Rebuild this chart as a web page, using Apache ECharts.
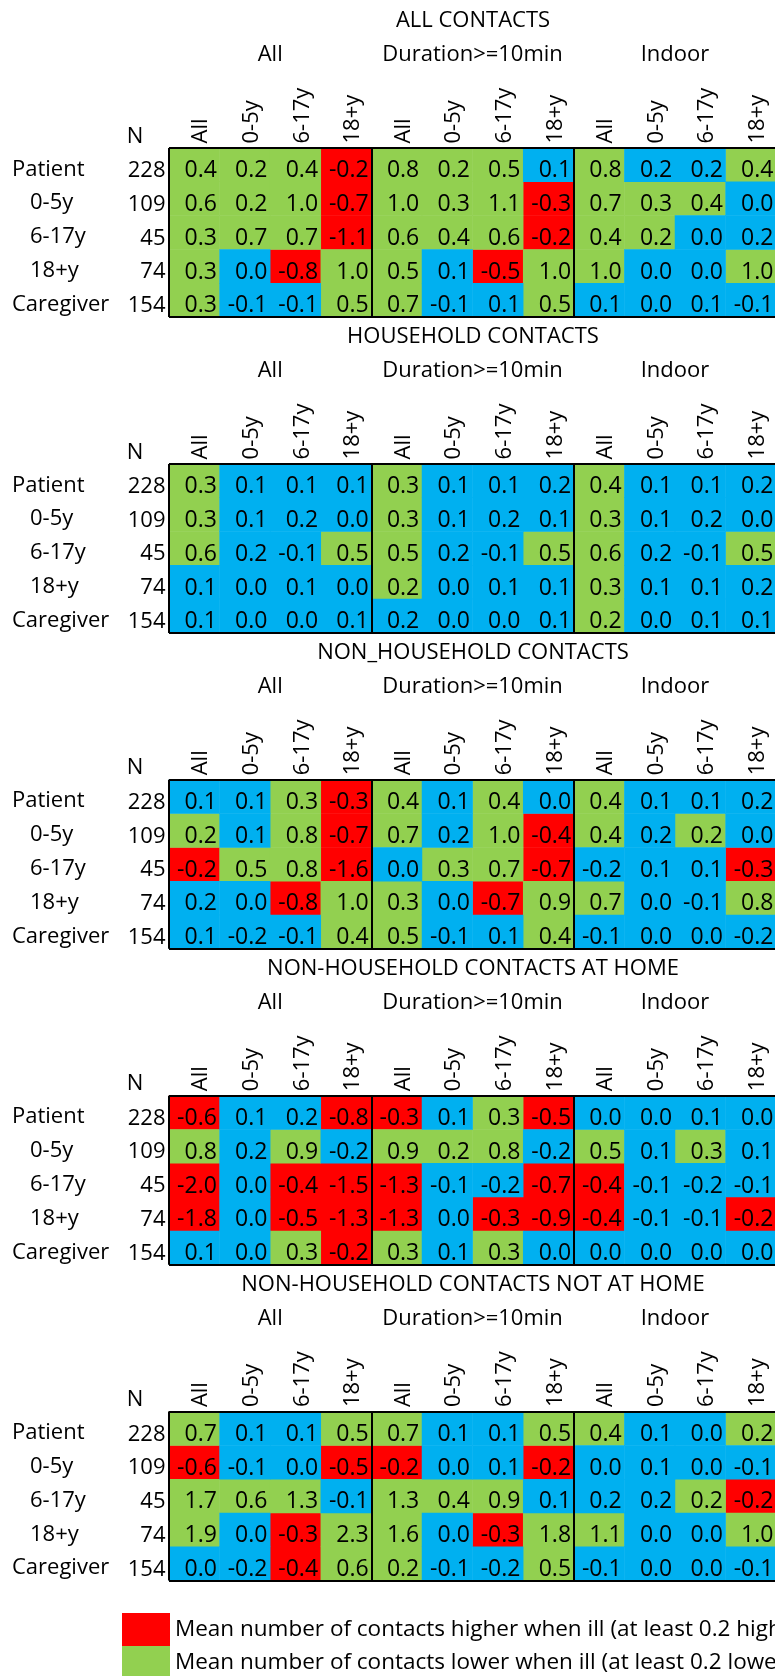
<!DOCTYPE html>
<html>
<head>
<meta charset="utf-8">
<script src="https://cdn.jsdelivr.net/npm/echarts@6/dist/echarts.min.js"></script>
<style>
  html, body { margin: 0; padding: 0; background: #fff; }
  #chart { width: 775px; height: 1676px; }
</style>
</head>
<body>
<div id="chart"></div>
<script>
var panelTitles = ['ALL CONTACTS', 'HOUSEHOLD CONTACTS', 'NON_HOUSEHOLD CONTACTS',
  'NON-HOUSEHOLD CONTACTS AT HOME', 'NON-HOUSEHOLD CONTACTS NOT AT HOME'];
var groupLabels = ['All', 'Duration>=10min', 'Indoor'];
var colLabels = ['All', '0-5y', '6-17y', '18+y', 'All', '0-5y', '6-17y', '18+y', 'All', '0-5y', '6-17y', '18+y'];
var rowLabels = ['Patient', '0-5y', '6-17y', '18+y', 'Caregiver'];
var nLabels = ['228', '109', '45', '74', '154'];
var legendHigher = 'Mean number of contacts higher when ill (at least 0.2 higher)';
var legendLower = 'Mean number of contacts lower when ill (at least 0.2 lower)';
var legendOther = 'Difference less than 0.2';

// cell values, one row per group; cls: R = higher when ill, G = lower, B = neither
var allContacts = [
  [0.4, 0.2, 0.4, -0.2, 0.8, 0.2, 0.5, 0.1, 0.8, 0.2, 0.2, 0.4],
  [0.6, 0.2, 1.0, -0.7, 1.0, 0.3, 1.1, -0.3, 0.7, 0.3, 0.4, 0.0],
  [0.3, 0.7, 0.7, -1.1, 0.6, 0.4, 0.6, -0.2, 0.4, 0.2, 0.0, 0.2],
  [0.3, 0.0, -0.8, 1.0, 0.5, 0.1, -0.5, 1.0, 1.0, 0.0, 0.0, 1.0],
  [0.3, -0.1, -0.1, 0.5, 0.7, -0.1, 0.1, 0.5, 0.1, 0.0, 0.1, -0.1]
];
var allContactsCls = ['GGGR GGGB GBBG', 'GGGR GGGR GGGB', 'GGGR GGGR GGBB', 'GBRG GBRG GBBG', 'GBBG GBBG BBBB'];

var household = [
  [0.3, 0.1, 0.1, 0.1, 0.3, 0.1, 0.1, 0.2, 0.4, 0.1, 0.1, 0.2],
  [0.3, 0.1, 0.2, 0.0, 0.3, 0.1, 0.2, 0.1, 0.3, 0.1, 0.2, 0.0],
  [0.6, 0.2, -0.1, 0.5, 0.5, 0.2, -0.1, 0.5, 0.6, 0.2, -0.1, 0.5],
  [0.1, 0.0, 0.1, 0.0, 0.2, 0.0, 0.1, 0.1, 0.3, 0.1, 0.1, 0.2],
  [0.1, 0.0, 0.0, 0.1, 0.2, 0.0, 0.0, 0.1, 0.2, 0.0, 0.1, 0.1]
];
var householdCls = ['GBBB GBBB GBBB', 'GBBB GBBB GBBB', 'GBBG GBBG GBBG', 'BBBB GBBB GBBB', 'BBBB BBBB GBBB'];

var nonHousehold = [
  [0.1, 0.1, 0.3, -0.3, 0.4, 0.1, 0.4, 0.0, 0.4, 0.1, 0.1, 0.2],
  [0.2, 0.1, 0.8, -0.7, 0.7, 0.2, 1.0, -0.4, 0.4, 0.2, 0.2, 0.0],
  [-0.2, 0.5, 0.8, -1.6, 0.0, 0.3, 0.7, -0.7, -0.2, 0.1, 0.1, -0.3],
  [0.2, 0.0, -0.8, 1.0, 0.3, 0.0, -0.7, 0.9, 0.7, 0.0, -0.1, 0.8],
  [0.1, -0.2, -0.1, 0.4, 0.5, -0.1, 0.1, 0.4, -0.1, 0.0, 0.0, -0.2]
];
var nonHouseholdCls = ['BBGR GBGB GBBB', 'GBGR GBGR GBGB', 'RGGR BGGR BBBR', 'BBRG GBRG GBBG', 'BBBG GBBG BBBB'];

var atHome = [
  [-0.6, 0.1, 0.2, -0.8, -0.3, 0.1, 0.3, -0.5, 0.0, 0.0, 0.1, 0.0],
  [0.8, 0.2, 0.9, -0.2, 0.9, 0.2, 0.8, -0.2, 0.5, 0.1, 0.3, 0.1],
  [-2.0, 0.0, -0.4, -1.5, -1.3, -0.1, -0.2, -0.7, -0.4, -0.1, -0.2, -0.1],
  [-1.8, 0.0, -0.5, -1.3, -1.3, 0.0, -0.3, -0.9, -0.4, -0.1, -0.1, -0.2],
  [0.1, 0.0, 0.3, -0.2, 0.3, 0.1, 0.3, 0.0, 0.0, 0.0, 0.0, 0.0]
];
var atHomeCls = ['RBBR RBGR BBBB', 'GBGB GGGB GBGB', 'RBRR RBBR RBBB', 'RBRR RBRR RBBR', 'BBGR GBGB BBBB'];

var notAtHome = [
  [0.7, 0.1, 0.1, 0.5, 0.7, 0.1, 0.1, 0.5, 0.4, 0.1, 0.0, 0.2],
  [-0.6, -0.1, 0.0, -0.5, -0.2, 0.0, 0.1, -0.2, 0.0, 0.1, 0.0, -0.1],
  [1.7, 0.6, 1.3, -0.1, 1.3, 0.4, 0.9, 0.1, 0.2, 0.2, 0.2, -0.2],
  [1.9, 0.0, -0.3, 2.3, 1.6, 0.0, -0.3, 1.8, 1.1, 0.0, 0.0, 1.0],
  [0.0, -0.2, -0.4, 0.6, 0.2, -0.1, -0.2, 0.5, -0.1, 0.0, 0.0, -0.1]
];
var notAtHomeCls = ['GBBG GBBG GBBG', 'RBBR RBBR BBBB', 'GGGB GGGB BBGR', 'GBRG GBRG GBBG', 'BBRG GBBG BBBB'];

var panelValues = [allContacts, household, nonHousehold, atHome, notAtHome];
var panelCls = [allContactsCls, householdCls, nonHouseholdCls, atHomeCls, notAtHomeCls];

var font = '"Open Sans", sans-serif';
var fill = { R: '#FF0000', G: '#92D050', B: '#00B0F0' };
var clsName = { R: legendHigher, G: legendLower, B: legendOther };

var firstTop = 148, step = 315.9, rowH = 33.8, colW = 50.6, gridLeft = 169;

var chart = echarts.init(document.getElementById('chart'));

var option = {
  backgroundColor: '#fff',
  animation: false,
  title: [],
  grid: [],
  xAxis: [],
  yAxis: [],
  series: [],
  legend: {
    orient: 'vertical',
    left: 122,
    top: 1613,
    height: 90,
    padding: 0,
    itemWidth: 48,
    itemHeight: 33,
    itemGap: 0,
    icon: 'rect',
    selectedMode: false,
    data: [legendHigher, legendLower],
    textStyle: { fontSize: 22.5, color: '#000', fontFamily: font, padding: [8, 0, 0, 0] }
  }
};

panelTitles.forEach(function (t, i) {
  var gTop = firstTop + i * step;
  option.title.push({
    text: t, left: 473, top: gTop - 138.3, textAlign: 'center', padding: 0,
    textStyle: { fontSize: 22, fontWeight: 'normal', color: '#000', fontFamily: font }
  });
  option.title.push({
    text: 'N', left: 135, top: gTop - 22.6, textAlign: 'center', padding: 0,
    textStyle: { fontSize: 22, fontWeight: 'normal', color: '#000', fontFamily: font }
  });
  option.grid.push({
    left: gridLeft, top: gTop, width: colW * 12, height: rowH * 5,
    containLabel: false, outerBoundsMode: 'none'
  });
  // column headers, block borders
  option.xAxis.push({
    gridIndex: i, type: 'category', data: colLabels, position: 'top', z: 10,
    axisLine: { show: false }, axisTick: { show: false },
    axisLabel: {
      interval: 0, rotate: -90, margin: 4.5, verticalAlign: 'top', lineHeight: 13.6,
      fontSize: 22, color: '#000', fontFamily: font
    },
    splitLine: {
      show: true,
      interval: function (idx) { return idx % 4 === 0; },
      lineStyle: { color: '#000', width: 2 }
    }
  });
  // group headers
  option.xAxis.push({
    gridIndex: i, type: 'category', data: groupLabels, position: 'top', offset: 82.3,
    axisLine: { show: false }, axisTick: { show: false }, splitLine: { show: false },
    axisLabel: { interval: 0, margin: 0, fontSize: 22, color: '#000', fontFamily: font }
  });
  option.yAxis.push({
    gridIndex: i, type: 'category', data: rowLabels, inverse: true, position: 'left', z: 10,
    axisLine: { show: false }, axisTick: { show: false },
    axisLabel: {
      interval: 0, align: 'left', margin: 157, verticalAlign: 'top', lineHeight: 9,
      fontSize: 22, color: '#000', fontFamily: font,
      formatter: function (v) {
        return (v === 'Patient' || v === 'Caregiver') ? v : '{ind|' + v + '}';
      },
      rich: {
        ind: { padding: [0, 0, 0, 18], lineHeight: 9, fontSize: 22, color: '#000', fontFamily: font }
      }
    },
    splitLine: {
      show: true,
      interval: function (idx) { return idx === 0; },
      lineStyle: { color: '#000', width: 2 }
    }
  });
  option.yAxis.push({
    gridIndex: i, type: 'category', data: nLabels, inverse: true, position: 'left',
    axisLine: { show: false }, axisTick: { show: false }, splitLine: { show: false },
    axisLabel: {
      interval: 0, margin: 3.5, verticalAlign: 'top', lineHeight: 11.6,
      fontSize: 22, color: '#000', fontFamily: font
    }
  });

  ['R', 'G', 'B'].forEach(function (k) {
    var data = [];
    panelValues[i].forEach(function (row, r) {
      var codes = panelCls[i][r].replace(/ /g, '');
      row.forEach(function (v, c) {
        if (codes[c] === k) data.push([c, r, v]);
      });
    });
    option.series.push({
      type: 'heatmap',
      name: clsName[k],
      xAxisIndex: 2 * i,
      yAxisIndex: 2 * i,
      data: data,
      itemStyle: { color: fill[k], borderWidth: 0 },
      emphasis: { disabled: true },
      label: {
        show: true, position: 'insideRight', distance: 3, offset: [0, 5.8],
        fontSize: 23, color: '#000', fontFamily: font,
        formatter: function (p) { return p.value[2].toFixed(1); }
      }
    });
  });
});

chart.setOption(option);
</script>
</body>
</html>
